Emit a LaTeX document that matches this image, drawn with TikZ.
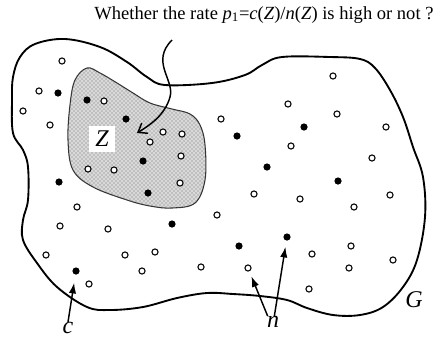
\documentclass[tikz,border=0pt]{standalone}
\usepackage{fontspec}
\setmainfont{Liberation Serif}
\usepackage{tikz}
\usetikzlibrary{arrows.meta, patterns}

\tikzset{
  opendot/.style={draw, circle, fill=white, inner sep=0pt, minimum size=4.6pt, line width=0.8pt},
  fulldot/.style={circle, fill=black, inner sep=0pt, minimum size=5.4pt},
  biglabel/.style={font=\fontsize{18}{20}\selectfont\itshape, inner sep=0pt},
  ptr/.style={-{Latex[length=8pt,width=5.5pt]}, line width=1.1pt}
}

\begin{document}
\begin{tikzpicture}[x=0.75pt, y=-0.75pt]
  \useasboundingbox (0,0) rectangle (434,337);

  % the whole set G
  \draw[line width=1.4pt] plot[smooth cycle, tension=0.6] coordinates {
    (65,39) (100,47) (127,62) (147,77) (165,85) (212,83) (245,75) (262,65)
    (282,57) (330,57) (360,59) (375,68) (390,90) (403,117) (413,147)
    (423,177) (425,217) (417,260) (403,287) (383,307) (360,315) (333,315)
    (307,308) (287,300) (260,296) (233,294) (207,293) (177,298) (143,307)
    (110,310) (87,307) (57,287) (37,263) (23,240) (23,220) (28,200)
    (28,167) (23,150) (13,133) (12,100) (13,77) (20,57) (35,44)};

  % the zone Z
  \draw[gray!40!black, line width=0.8pt, fill=gray!30,
        postaction={pattern=crosshatch dots, pattern color=gray!85!black}]
    plot[smooth cycle, tension=0.6] coordinates {
    (87,68) (100,73) (117,83) (133,93) (150,103) (172,109) (190,114)
    (200,125) (205,145) (205,180) (195,203) (172,208) (150,206) (127,200)
    (93,187) (73,170) (68,140) (70,105) (75,80)};
  \node[fill=white, minimum width=19pt, minimum height=20pt, inner sep=0pt,
        font=\fontsize{18}{20}\selectfont\itshape] (zlab) at (102,139) {Z};

  % plain entities
  \foreach \x/\y [count=\i] in {62/61, 39/91, 23/111, 50/125, 104/101, 163/132,
      182/134, 150/142, 181/156, 88/169, 114/170, 180/183, 221/119, 288/104,
      333/76, 337/114, 386/127, 291/146, 372/158, 254/194, 300/199, 390/195,
      354/207, 217/215, 77/207, 60/226, 108/229, 155/252, 46/255, 125/255,
      312/254, 351/246, 393/260, 89/284, 142/271, 201/267, 349/268, 309/289}
    \node[opendot] (o\i) at (\x,\y) {};
  % marked entities
  \foreach \x/\y [count=\i] in {58/93, 87/100, 126/119, 143/161, 148/193,
      59/182, 237/136, 304/127, 267/167, 338/181, 172/224, 239/246}
    \node[fulldot] (f\i) at (\x,\y) {};

  \node[fulldot] (cdot) at (76,271) {};
  \node[opendot] (ndota) at (248,268) {};
  \node[fulldot] (ndotb) at (287,237) {};

  % labels
  \node[anchor=base, inner sep=0pt, font=\fontsize{13.9}{16}\selectfont] (question) at (264,19)
    {Whether the rate \textit{p}\textsubscript{1}=\textit{c}(\textit{Z})/\textit{n}(\textit{Z}) is high or not ?};
  \node[biglabel] (clab) at (68,328) {c};
  \node[biglabel] (nlab) at (273,322) {n};
  \node[biglabel] (glab) at (414,300) {G};

  % arrows
  \coordinate (qtop) at (172,40);
  \coordinate (qend) at (137,133);
  \draw[line width=1.1pt, -{Straight Barb[length=6pt, width=9pt]}]
    (qtop) .. controls (150,62) and (175,80) .. (170,97)
           .. controls (165,115) and (150,125) .. (qend);
  \draw[ptr, shorten >=6pt] (clab.north) -- (cdot);
  \draw[ptr, shorten >=4pt] ([xshift=-4pt]nlab.north) -- (ndota);
  \draw[ptr, shorten >=4.5pt] ([xshift=1pt]nlab.north) -- (ndotb);
\end{tikzpicture}
\end{document}
